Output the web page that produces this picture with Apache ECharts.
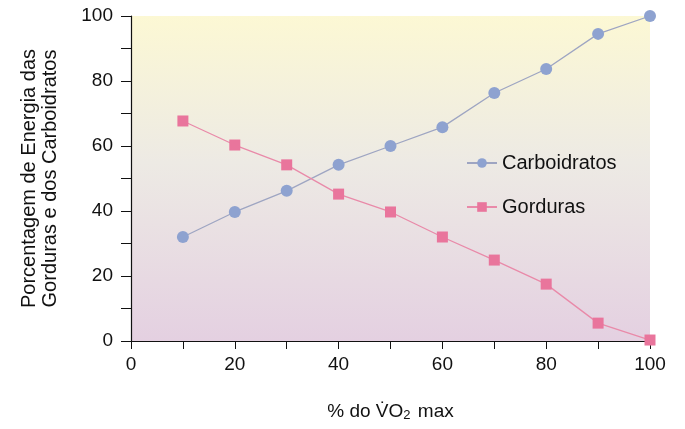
<!DOCTYPE html>
<html><head><meta charset="utf-8">
<script src="https://cdn.jsdelivr.net/npm/echarts@6/dist/echarts.min.js"></script>
<style>html,body{margin:0;padding:0;background:#fff}#c{width:685px;height:429px}</style>
</head><body><div id="c"></div>
<script>
const xValues = [10, 20, 30, 40, 50, 60, 70, 80, 90, 100];
const carboidratos = [32, 39.7, 46.2, 54.2, 60, 65.8, 76.3, 83.7, 94.5, 100];
const gorduras = [67.7, 60.3, 54.2, 45.2, 39.7, 32, 24.9, 17.5, 5.5, 0.3];
const tickLabels = [0, 20, 40, 60, 80, 100];

const chart = echarts.init(document.getElementById('c'));
const font = 'Liberation Sans, Arial, sans-serif';
chart.setOption({
  animation: false,
  grid: {
    left: 131, right: 35, top: 16, bottom: 88, show: true, borderWidth: 0,
    backgroundColor: {
      type: 'linear', x: 0, y: 0, x2: 0, y2: 1,
      colorStops: [
        {offset: 0, color: '#fcf8d4'},
        {offset: 0.45, color: '#edeae4'},
        {offset: 1, color: '#e4d0e1'}
      ]
    }
  },
  legend: {
    orient: 'vertical', left: 461, top: 148, itemGap: 24, itemWidth: 30, itemHeight: 12,
    textStyle: {fontFamily: font, fontSize: 20, color: '#111'},
    data: ['Carboidratos', 'Gorduras']
  },
  xAxis: {
    type: 'value', min: 0, max: 100, interval: 10,
    axisLine: {lineStyle: {color: '#111', width: 1.2}},
    axisTick: {length: 8, lineStyle: {color: '#111'}},
    splitLine: {show: false},
    axisLabel: {
      fontFamily: font, fontSize: 19, color: '#111', margin: 14,
      formatter: v => tickLabels.includes(v) ? String(v) : ''
    },
    name: '% do V\u0307O{s|2} max',
    nameLocation: 'middle', nameGap: 60,
    nameTextStyle: {
      fontFamily: font, fontSize: 19, color: '#111',
      rich: {s: {fontFamily: font, fontSize: 13, color: '#111', verticalAlign: 'bottom', padding: [8, 2, 0, 0]}}
    }
  },
  yAxis: {
    type: 'value', min: 0, max: 100, interval: 10,
    axisLine: {show: true, lineStyle: {color: '#111', width: 1.2}},
    axisTick: {show: true, length: 10, lineStyle: {color: '#111'}},
    splitLine: {show: false},
    axisLabel: {
      fontFamily: font, fontSize: 19, color: '#111', margin: 18,
      formatter: v => tickLabels.includes(v) ? String(v) : ''
    },
    name: 'Porcentagem de Energia das\nGorduras e dos Carboidratos',
    nameLocation: 'middle', nameGap: 70, nameRotate: 90,
    nameTextStyle: {fontFamily: font, fontSize: 20, color: '#111', lineHeight: 21}
  },
  series: [
    {
      name: 'Carboidratos', type: 'line',
      data: xValues.map((x, i) => [x, carboidratos[i]]),
      symbol: 'circle', symbolSize: 12,
      itemStyle: {color: '#8ea2d0'},
      lineStyle: {color: '#9ea5c2', width: 1.3}
    },
    {
      name: 'Gorduras', type: 'line',
      data: xValues.map((x, i) => [x, gorduras[i]]),
      symbol: 'rect', symbolSize: 11,
      itemStyle: {color: '#e9759c'},
      lineStyle: {color: '#e98aa9', width: 1.3}
    }
  ]
});
</script></body></html>
